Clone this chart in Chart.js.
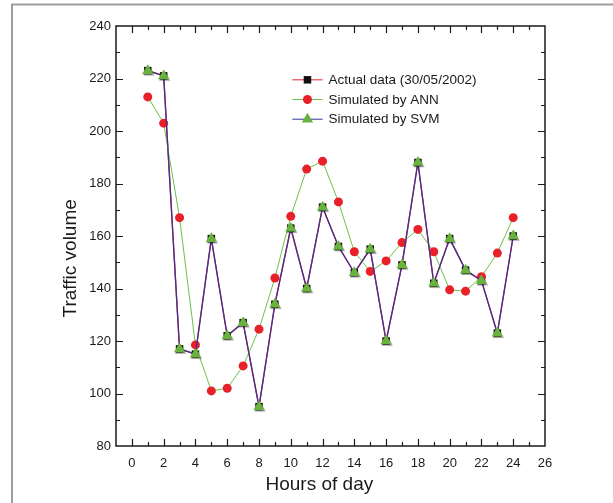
<!DOCTYPE html>
<html>
<head>
<meta charset="utf-8">
<script src="https://cdn.jsdelivr.net/npm/chart.js@4/dist/chart.umd.min.js"></script>
<style>
  html, body { margin: 0; padding: 0; background: #ffffff; }
  #wrap { width: 613px; height: 503px; position: relative; }
</style>
</head>
<body>
<div id="wrap"><canvas id="c" width="613" height="503"></canvas></div>
<script>
// ---- Data ----
const hours = [1,2,3,4,5,6,7,8,9,10,11,12,13,14,15,16,17,18,19,20,21,22,23,24];
const actualData = [223,221,117,115,159,122,127,95,134,163,140,171,156,146,155,120,149,188,142,159,147,143,123,160];
const annData = [213,203,167,118.5,101,102,110.5,124.5,144,167.5,185.5,188.5,173,154,146.5,150.5,157.5,162.5,154,139.5,139,144.5,153.5,167];
const svmData = [223,221,117,115,159,122,127,95,134,163,140,171,156,146,155,120,149,188,142,159,147,143,123,160];
const seriesNames = ['Actual data (30/05/2002)', 'Simulated by ANN', 'Simulated by SVM'];
const xTickLabels = [0,2,4,6,8,10,12,14,16,18,20,22,24,26];
const yTickLabels = [80,100,120,140,160,180,200,220,240];
const xTitle = 'Hours of day';
const yTitle = 'Traffic volume';

const RED = '#e8202a';
const GREEN_LINE = '#6cc24a';
const GREEN_MARK = '#6ab23e';
const BLUE = '#34349a';
const FONT = "'Liberation Sans', Arial, sans-serif";

const toPts = arr => hours.map((h, i) => ({x: h, y: arr[i]}));

const framePlugin = {
  id: 'framePlugin',
  beforeDraw(chart) {
    const ctx = chart.ctx;
    ctx.save();
    ctx.fillStyle = '#ffffff';
    ctx.fillRect(0, 0, chart.width, chart.height);
    ctx.strokeStyle = '#9c9c9c';
    ctx.lineWidth = 2;
    ctx.beginPath();
    ctx.moveTo(12, chart.height);
    ctx.lineTo(12, 4.5);
    ctx.lineTo(chart.width, 4.5);
    ctx.stroke();
    ctx.restore();
  },
  beforeDatasetDraw(chart, args) {
    if (args.index !== 2) return;
    const ctx = chart.ctx;
    const meta = args.meta;
    const area = chart.chartArea;
    meta.dataset.draw(ctx, area);
    ctx.save();
    ctx.shadowColor = 'rgba(0,0,0,0.38)';
    ctx.shadowOffsetX = 1;
    ctx.shadowOffsetY = 1.5;
    ctx.shadowBlur = 1;
    meta.data.forEach(p => p.draw(ctx, area));
    ctx.restore();
    return false;
  },
  afterDraw(chart) {
    const ctx = chart.ctx;
    const xs = chart.scales.x, ys = chart.scales.y;
    const L = xs.left, R = xs.right, T = ys.top, B = ys.bottom;
    ctx.save();
    ctx.strokeStyle = '#1a1a1a';
    ctx.lineWidth = 1.5;
    ctx.strokeRect(L, T, R - L, B - T);
    ctx.lineWidth = 1.2;
    ctx.beginPath();
    for (let v = 0; v <= 25; v++) {
      const px = Math.round(xs.getPixelForValue(v)) + 0.5;
      const len = (v % 2 === 0) ? 7 : 4;
      ctx.moveTo(px, B); ctx.lineTo(px, B - len);
      ctx.moveTo(px, T); ctx.lineTo(px, T + len);
    }
    for (let v = 90; v <= 230; v += 10) {
      const py = Math.round(ys.getPixelForValue(v)) + 0.5;
      const len = (v % 20 === 0) ? 7 : 4;
      ctx.moveTo(L, py); ctx.lineTo(L + len, py);
      ctx.moveTo(R, py); ctx.lineTo(R - len, py);
    }
    ctx.stroke();

    // axis titles
    ctx.fillStyle = '#1a1a1a';
    ctx.font = '19px ' + FONT;
    ctx.textAlign = 'center';
    ctx.textBaseline = 'middle';
    ctx.fillText(xTitle, xs.getPixelForValue(11.8), 485);
    ctx.save();
    ctx.translate(71, ys.getPixelForValue(151.5));
    ctx.rotate(-Math.PI / 2);
    ctx.fillText(yTitle, 0, 0);
    ctx.restore();

    // legend
    const lx0 = xs.getPixelForValue(10.1), lx1 = xs.getPixelForValue(12.0);
    const rows = [ys.getPixelForValue(219.5), ys.getPixelForValue(212), ys.getPixelForValue(204.5)];
    const lineColors = [RED, GREEN_LINE, BLUE];
    ctx.font = '13.5px ' + FONT;
    ctx.textAlign = 'left';
    rows.forEach((y, i) => {
      ctx.strokeStyle = lineColors[i];
      ctx.lineWidth = 1;
      ctx.beginPath();
      ctx.moveTo(lx0, y); ctx.lineTo(lx1, y);
      ctx.stroke();
      const cx = (lx0 + lx1) / 2;
      const ds = chart.data.datasets[i];
      ctx.fillStyle = ds.pointBackgroundColor;
      ctx.strokeStyle = ds.pointBorderColor;
      ctx.lineWidth = 0;
      Chart.helpers.drawPoint(ctx, {
        pointStyle: ds.pointStyle, radius: ds.pointRadius, rotation: 0,
        borderWidth: 0
      }, cx, y);
      ctx.fillStyle = '#1a1a1a';
      ctx.fillText(seriesNames[i], lx1 + 6, y + 0.5);
    });
    ctx.restore();
  }
};

new Chart(document.getElementById('c'), {
  type: 'line',
  data: {
    datasets: [
      {
        label: seriesNames[0],
        data: toPts(actualData),
        borderColor: RED,
        borderWidth: 1.4,
        pointStyle: 'rect',
        pointRadius: 5.3,
        pointBackgroundColor: '#111111',
        pointBorderColor: '#111111',
        pointBorderWidth: 0,
        tension: 0,
        order: 3
      },
      {
        label: seriesNames[1],
        data: toPts(annData),
        borderColor: GREEN_LINE,
        borderWidth: 1,
        pointStyle: 'circle',
        pointRadius: 4.5,
        pointBackgroundColor: RED,
        pointBorderColor: RED,
        pointBorderWidth: 0,
        tension: 0,
        order: 2
      },
      {
        label: seriesNames[2],
        data: toPts(svmData),
        borderColor: BLUE,
        borderWidth: 1.2,
        pointStyle: 'triangle',
        pointRadius: 6.5,
        pointBackgroundColor: GREEN_MARK,
        pointBorderColor: GREEN_MARK,
        pointBorderWidth: 0,
        tension: 0,
        order: 1
      }
    ]
  },
  options: {
    responsive: false,
    animation: false,
    devicePixelRatio: 1,
    layout: { padding: { left: 0, top: 26, right: 68, bottom: 0 } },
    plugins: { legend: { display: false }, tooltip: { enabled: false } },
    scales: {
      x: {
        type: 'linear',
        min: -1, max: 26,
        grid: { display: false, drawTicks: false },
        border: { display: false },
        afterBuildTicks: s => { s.ticks = xTickLabels.map(v => ({ value: v })); },
        afterFit: s => { s.height = 57; },
        ticks: { color: '#1a1a1a', font: { size: 13, family: FONT }, padding: 10, maxRotation: 0, autoSkip: false }
      },
      y: {
        type: 'linear',
        min: 80, max: 240,
        grid: { display: false, drawTicks: false },
        border: { display: false },
        afterBuildTicks: s => { s.ticks = yTickLabels.map(v => ({ value: v })); },
        afterFit: s => { s.width = 116; },
        ticks: { color: '#1a1a1a', font: { size: 13, family: FONT }, padding: 5 }
      }
    }
  },
  plugins: [framePlugin]
});
</script>
</body>
</html>
